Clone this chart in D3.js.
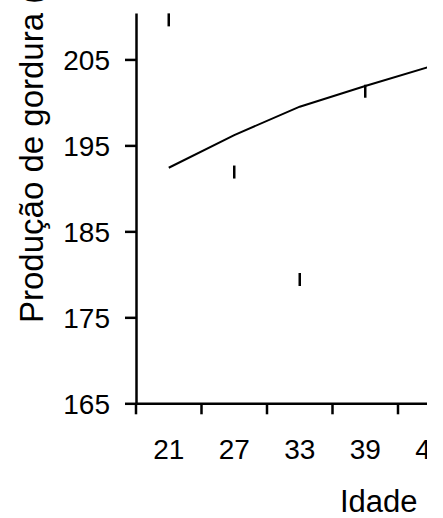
<!DOCTYPE html>
<html>
<head>
<meta charset="utf-8">
<script src="https://cdn.jsdelivr.net/npm/d3@7"></script>
<style>
  body { margin: 0; background: #fff; }
  svg { display: block; overflow: hidden; }
  text { font-family: "Liberation Sans", Arial, sans-serif; fill: #000; }
</style>
</head>
<body>
<div id="chart-area"></div>
<script>
// idade (categorias) e producao de gordura
let idades = [21, 27, 33, 39, 45]
let observado = [209.6, 191.9, 179.4, 201.3]   // 5o ponto fica fora do recorte
let tendencia = [192.4, 196.2, 199.5, 201.9, 204.2]
let yTicks = [165, 175, 185, 195, 205]

let marginLeft = 136, plotTop = 13, plotBottom = 403.3
let step = 65.5

// the original picture is cut at x = 427
let svg = d3.select("#chart-area").append("svg")
  .attr("width", 427)
  .attr("height", 518)

let x = d3.scaleBand()
  .domain(idades)
  .range([marginLeft, marginLeft + step * idades.length])
  .padding(0)

let y = d3.scaleLinear()
  .domain([165, 210.4])
  .range([plotBottom, plotTop])

let cx = d => x(d) + x.bandwidth() / 2

// y axis
let yAxis = svg.append("g")
  .attr("transform", `translate(${marginLeft},0)`)
  .call(d3.axisLeft(y).tickValues(yTicks).tickSize(11).tickSizeOuter(0).tickPadding(15))
yAxis.select(".domain").attr("stroke", "#000").attr("stroke-width", 2.5)
yAxis.selectAll(".tick line").attr("stroke", "#000").attr("stroke-width", 2.5)
yAxis.selectAll(".tick text")
  .attr("font-size", 28)
  .attr("font-family", "Liberation Sans, Arial, sans-serif")
  .attr("fill", "#000")
  .attr("dy", "0.36em")

// x axis: labels in the middle of each category, ticks between them
let xAxis = svg.append("g")
  .attr("transform", `translate(0,${plotBottom})`)
  .call(d3.axisBottom(x).tickSize(0).tickSizeOuter(0).tickPadding(36))
xAxis.select(".domain").attr("stroke", "#000").attr("stroke-width", 2.5)
xAxis.selectAll(".tick text")
  .attr("font-size", 28)
  .attr("font-family", "Liberation Sans, Arial, sans-serif")
  .attr("fill", "#000")

xAxis.selectAll(".xtick")
  .data(idades)
  .enter()
  .append("line")
    .attr("class", "xtick")
    .attr("x1", d => x(d))
    .attr("x2", d => x(d))
    .attr("y1", 0)
    .attr("y2", 11)
    .attr("stroke", "#000")
    .attr("stroke-width", 2.5)

// trend line
let line = d3.line()
  .x((d, i) => cx(idades[i]))
  .y(d => y(d))

svg.append("path")
  .datum(tendencia)
  .attr("d", line)
  .attr("fill", "none")
  .attr("stroke", "#000")
  .attr("stroke-width", 2)

// observed points, drawn as short vertical dashes
svg.selectAll(".ponto")
  .data(observado)
  .enter()
  .append("line")
    .attr("class", "ponto")
    .attr("x1", (d, i) => cx(idades[i]))
    .attr("x2", (d, i) => cx(idades[i]))
    .attr("y1", d => y(d) - 6.5)
    .attr("y2", d => y(d) + 6.5)
    .attr("stroke", "#000")
    .attr("stroke-width", 2.5)

// axis titles
svg.append("text")
  .attr("transform", "translate(43,323) rotate(-90)")
  .attr("font-size", 33)
  .text("Produção de gordura (kg)")

svg.append("text")
  .attr("x", 340)
  .attr("y", 512)
  .attr("font-size", 31)
  .text("Idade")
</script>
</body>
</html>
